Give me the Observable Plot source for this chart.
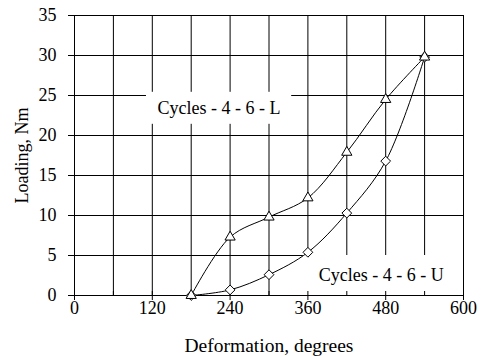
<!DOCTYPE html>
<html><head><meta charset="utf-8">
<script src="https://cdn.jsdelivr.net/npm/d3@7"></script>
<script src="https://cdn.jsdelivr.net/npm/@observablehq/plot@0.6"></script>
<style>body{margin:0;background:#fff} svg{font-family:"Liberation Serif","Times New Roman",serif}</style>
</head><body><div id="chart"></div>
<script>
const deformation = [180, 240, 300, 360, 420, 480, 540];
const loadingL = [0, 7.3, 9.8, 12.2, 17.9, 24.5, 29.8];
const loadingU = [0, 0.7, 2.6, 5.4, 10.3, 16.8, 29.8];
const xTicks = [0, 120, 240, 360, 480, 600];
const xGrid = [0, 60, 120, 180, 240, 300, 360, 420, 480, 540, 600];
const yTicks = [0, 5, 10, 15, 20, 25, 30, 35];
const labelTexts = ["Cycles - 4 - 6 - L", "Cycles - 4 - 6 - U"];
const labelX = [223, 473];
const labelY = [23.4, 2.5];
const boxX1 = [111, 353];
const boxX2 = [335, 600];
const boxY1 = [21.4, 0];
const boxY2 = [25.4, 5];

const seriesL = deformation.map((d, i) => ({x: d, y: loadingL[i]}));
const seriesU = deformation.map((d, i) => ({x: d, y: loadingU[i]}));
const labels = labelTexts.map((t, i) => ({text: t, x: labelX[i], y: labelY[i], x1: boxX1[i], x2: boxX2[i], y1: boxY1[i], y2: boxY2[i]}));

const chart = Plot.plot({
  width: 482, height: 356,
  marginLeft: 74, marginRight: 19, marginTop: 15, marginBottom: 61,
  style: {fontFamily: '"Liberation Serif","Times New Roman",serif', fontSize: "18px", color: "black", background: "white"},
  x: {domain: [0, 600]},
  y: {domain: [0, 35]},
  marks: [
    Plot.gridX(xGrid, {stroke: "black", strokeOpacity: 1, strokeWidth: 1}),
    Plot.gridY(yTicks, {stroke: "black", strokeOpacity: 1, strokeWidth: 1}),
    Plot.frame({stroke: "black", strokeWidth: 1}),
    Plot.rect(labels, {x1: "x1", x2: "x2", y1: "y1", y2: "y2", fill: "white"}),
    Plot.ruleX([600], {stroke: "black"}),
    Plot.ruleY([0], {stroke: "black"}),
    Plot.axisX(xGrid, {tickSize: 4, dy: -4, tickFormat: () => "", label: null}),
    Plot.line(seriesL, {x: "x", y: "y", curve: "catmull-rom", stroke: "black", strokeWidth: 1}),
    Plot.line(seriesU, {x: "x", y: "y", curve: "catmull-rom", stroke: "black", strokeWidth: 1}),
    Plot.dot(seriesU, {x: "x", y: "y", symbol: "diamond2", r: 4.4, fill: "white", stroke: "black", strokeWidth: 1}),
    Plot.dot(seriesL, {x: "x", y: "y", symbol: "triangle", r: 3.8, fill: "white", stroke: "black", strokeWidth: 1}),
    Plot.text(labels, {x: "x", y: "y", text: "text", fontSize: 18, fill: "black"}),
    Plot.axisY(yTicks, {tickSize: 6, tickPadding: 12, label: "Loading, Nm", labelAnchor: "center", labelOffset: 59, labelArrow: "none", fontSize: 18}),
    Plot.axisX(xTicks, {tickSize: 5, tickPadding: 1, label: null, fontSize: 18}),
    Plot.axisX(xTicks, {tickSize: 0, tickFormat: () => "", label: "Deformation, degrees", labelAnchor: "center", labelOffset: 56, labelArrow: "none", fontSize: 19.5})
  ]
});
document.getElementById("chart").appendChild(chart);
</script>
</body></html>
